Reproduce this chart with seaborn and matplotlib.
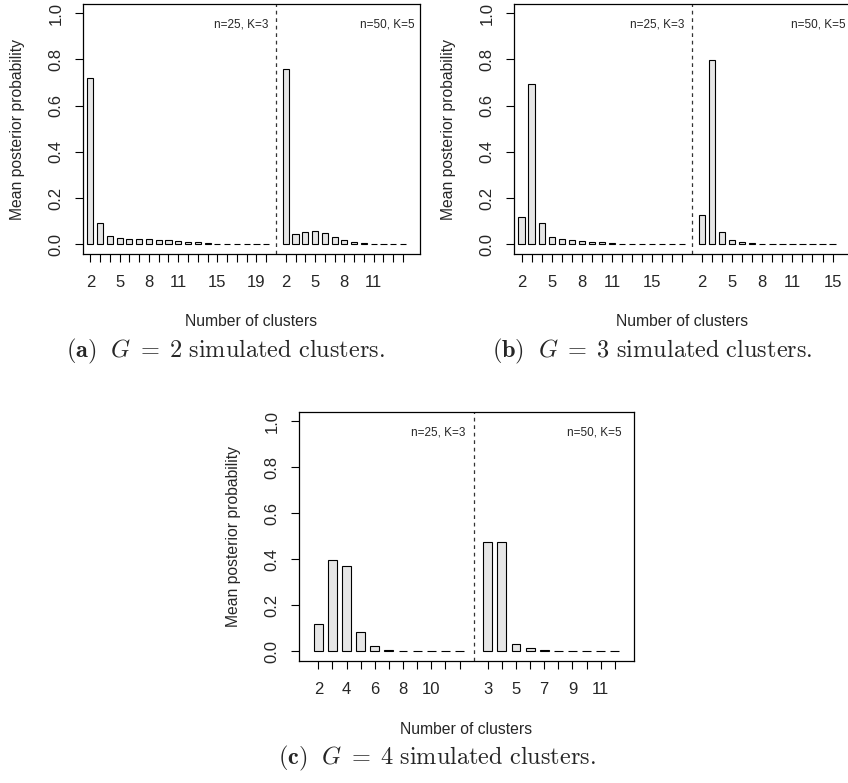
import numpy as np
import pandas as pd
import matplotlib
matplotlib.use("Agg")
import matplotlib.pyplot as plt
import seaborn as sns

sns.set_style("white")
plt.rcParams["font.family"] = ["Liberation Sans", "DejaVu Sans"]
plt.rcParams["mathtext.fontset"] = "cm"

# ---------------- data ----------------
groups = ["n=25, K=3", "n=50, K=5"]

a_k_left = list(range(2, 21))
a_left = [0.718, 0.091, 0.036, 0.027, 0.024, 0.022, 0.022, 0.020, 0.018, 0.015,
          0.012, 0.009, 0.005, 0.003, 0.002, 0.001, 0.001, 0.0005, 0.0003]
a_k_right = list(range(2, 15))
a_right = [0.758, 0.045, 0.052, 0.059, 0.048, 0.030, 0.017, 0.008, 0.005, 0.003,
           0.002, 0.001, 0.0005]

b_k_left = list(range(2, 19))
b_left = [0.120, 0.695, 0.092, 0.030, 0.023, 0.019, 0.014, 0.011, 0.008, 0.004,
          0.003, 0.002, 0.001, 0.001, 0.0005, 0.0003, 0.0002]
b_k_right = list(range(2, 16))
b_right = [0.125, 0.798, 0.052, 0.020, 0.010, 0.004, 0.003, 0.002, 0.001, 0.001,
           0.0005, 0.0003, 0.0002, 0.0001]

c_k_left = list(range(2, 13))
c_left = [0.120, 0.398, 0.371, 0.085, 0.023, 0.004, 0.002, 0.002, 0.001, 0.0005, 0.0003]
c_k_right = list(range(3, 13))
c_right = [0.475, 0.476, 0.033, 0.013, 0.004, 0.002, 0.002, 0.001, 0.0005, 0.0003]

a_labels_left = [2, 5, 8, 11, 15, 19]
a_labels_right = [2, 5, 8, 11]
b_labels_left = [2, 5, 8, 11, 15]
b_labels_right = [2, 5, 8, 11, 15]
c_labels_left = [2, 4, 6, 8, 10]
c_labels_right = [3, 5, 7, 9, 11]

captions = [r"$\mathbf{(a)}\ \ G\;=\;2\ \mathrm{simulated\ clusters.}$",
            r"$\mathbf{(b)}\ \ G\;=\;3\ \mathrm{simulated\ clusters.}$",
            r"$\mathbf{(c)}\ \ G\;=\;4\ \mathrm{simulated\ clusters.}$"]

# ---------------- figure ----------------
W, H = 848, 783
fig = plt.figure(figsize=(W / 100, H / 100), dpi=100)

FILL = "#e6e6e6"
GAP = "gap"


def panel(ax_px, kl, vl, kr, vr, lab_l, lab_r, xlim, txt_x, caption, cap_xy):
    x0, y0, w, h = ax_px
    ax = fig.add_axes([x0 / W, 1 - (y0 + h) / H, w / W, h / H])
    keys = [f"L{k}" for k in kl] + [f"R{k}" for k in kr]
    df = pd.DataFrame({"key": keys, "value": list(vl) + list(vr)})
    order = [f"L{k}" for k in kl] + [GAP] + [f"R{k}" for k in kr]
    sns.barplot(data=df, x="key", y="value", order=order, color=FILL,
                saturation=1, edgecolor="black", linewidth=0.8, width=0.63,
                errorbar=None, ax=ax)
    pos = [i for i, k in enumerate(order) if k != GAP]
    lbls = []
    for k in order:
        if k == GAP:
            continue
        num = int(k[1:])
        show = lab_l if k[0] == "L" else lab_r
        lbls.append(str(num) if num in show else "")
    ax.set_xticks(pos)
    ax.set_xticklabels(lbls, fontsize=12)
    sep = order.index(GAP)
    ax.axvline(sep, color="#333333", lw=0.9, ls=(0, (3, 3)))
    ax.set_xlim(*xlim)
    ax.set_ylim(-0.042, 1.04)
    ax.set_yticks([0, 0.2, 0.4, 0.6, 0.8, 1.0])
    ax.set_yticklabels(["0.0", "0.2", "0.4", "0.6", "0.8", "1.0"], fontsize=12,
                       rotation=90, va="center")
    ax.tick_params(axis="both", direction="out", length=6, width=0.8,
                   color="black", bottom=True, left=True)
    ax.tick_params(axis="x", pad=9)
    ax.tick_params(axis="y", pad=8)
    for s in ax.spines.values():
        s.set_visible(True)
        s.set_color("black")
        s.set_linewidth(0.9)
    ax.set_xlabel("Number of clusters", fontsize=11.3)
    ax.set_ylabel("Mean posterior probability", fontsize=11.3)
    ax.xaxis.set_label_coords(0.5, -68 / h)
    ax.xaxis.label.set_va("center")
    ax.yaxis.set_label_coords(-65 / w, 0.5)
    ax.yaxis.label.set_va("center")
    ax.text(txt_x[0], 0.95, groups[0], ha="right", va="center", fontsize=8.5)
    ax.text(txt_x[1], 0.95, groups[1], ha="right", va="center", fontsize=8.5)
    fig.text(cap_xy[0] / W, 1 - cap_xy[1] / H, caption, ha="center",
             va="center", fontsize=17.5)
    return ax


panel((83, 4, 337, 250), a_k_left, a_left, a_k_right, a_right,
      a_labels_left, a_labels_right, (-0.75, 33.74), (18.24, 33.2),
      captions[0], (225, 351))
panel((514, 4, 336, 250), b_k_left, b_left, b_k_right, b_right,
      b_labels_left, b_labels_right, (-0.76, 32.74), (16.27, 32.3),
      captions[1], (652, 351))
panel((299, 412, 335, 249), c_k_left, c_left, c_k_right, c_right,
      c_labels_left, c_labels_right, (-1.37, 22.36), (10.45, 21.46),
      captions[2], (437, 758))

fig.savefig("out.png", dpi=100)
